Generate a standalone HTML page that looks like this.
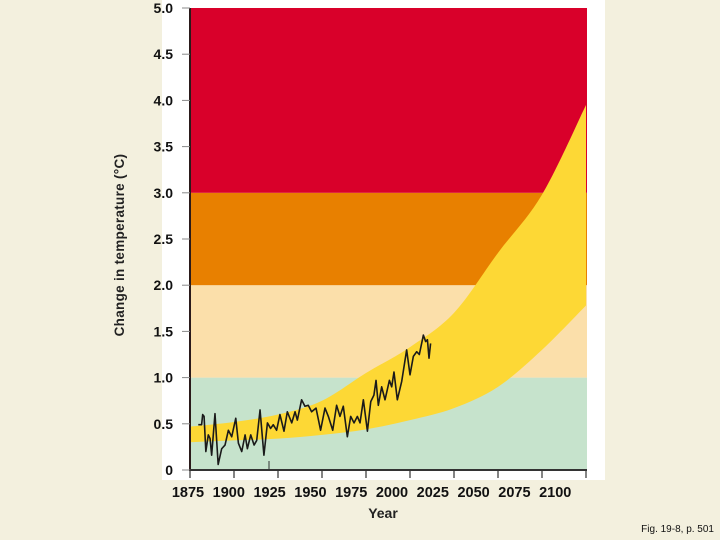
<!DOCTYPE html>
<html><head><meta charset="utf-8"><style>
body{margin:0;background:#f3f0de;font-family:"Liberation Sans",sans-serif}
svg{display:block}
</style></head><body>
<svg width="720" height="540" id="chart">
<rect x="0" y="0" width="720" height="540" fill="#f3f0de"/>
<rect x="162" y="0" width="443" height="480" fill="#ffffff"/>
<g id="bands"></g><g id="proj"></g><g id="line"></g><g id="axes"></g>
<text x="124" y="245" transform="rotate(-90 124 245)" text-anchor="middle" font-size="13.5" font-weight="bold" fill="#222" letter-spacing="0.3">Change in temperature (°C)</text>
<text x="383" y="518" text-anchor="middle" font-size="14" font-weight="bold" fill="#222">Year</text>
<text x="714" y="532" text-anchor="end" font-size="10" fill="#111">Fig. 19-8, p. 501</text>
</svg>
<script>
const bandLimits=[0,1,2,3,5];
const bandColors=["#c6e3cc","#fbdfaa","#e88000","#d9002a"];
const projYears=[1875,1900,1925,1950,1975,2000,2025,2050,2075,2100];
const projUpper=[0.47,0.52,0.6,0.75,1.05,1.33,1.7,2.35,2.98,3.95];
const projLower=[0.3,0.32,0.34,0.38,0.44,0.54,0.67,0.9,1.3,1.78];
const obsYears=[1879.7,1881.6,1882.2,1883,1884,1885.4,1886.4,1887.3,1889.2,1891,1893,1894.9,1896.8,1898.7,1901,1902.5,1904.4,1906.3,1907.6,1909.5,1911.4,1912.9,1914.8,1917,1919,1920.8,1922.3,1924.2,1926.1,1928.4,1930.3,1932.8,1934.7,1936,1938.4,1940.3,1942.2,1944.1,1946.6,1949.2,1951.7,1953.6,1956.1,1958.3,1960.2,1962.1,1964.4,1966.3,1968.2,1970.1,1971.6,1973.5,1975.8,1977.7,1979.5,1980.7,1982,1983.9,1985.8,1988.3,1989.6,1990.9,1992.8,1995.3,1998.1,2000,2001.9,2003.8,2005.3,2007.6,2008.9,2009.9,2010.8,2011.7];
const obsValues=[0.49,0.49,0.60,0.58,0.20,0.38,0.34,0.16,0.61,0.06,0.23,0.27,0.43,0.36,0.56,0.29,0.20,0.38,0.23,0.38,0.27,0.32,0.65,0.16,0.51,0.45,0.49,0.43,0.60,0.42,0.63,0.51,0.63,0.54,0.76,0.69,0.70,0.63,0.67,0.43,0.67,0.58,0.43,0.70,0.58,0.69,0.36,0.58,0.51,0.58,0.51,0.76,0.42,0.74,0.81,0.97,0.70,0.90,0.76,0.97,0.90,1.06,0.76,0.96,1.30,1.03,1.23,1.28,1.25,1.46,1.39,1.41,1.21,1.37];
const yTicks=[0,0.5,1,1.5,2,2.5,3,3.5,4,4.5,5];
const yTickLabels=["0","0.5","1.0","1.5","2.0","2.5","3.0","3.5","4.0","4.5","5.0"];
const xTicks=[1875,1900,1925,1950,1975,2000,2025,2050,2075,2100];
const xTickLabels=["1875","1900","1925","1950","1975","2000","2025","2050","2075","2100"];
const X0=190,X1=586,Y0=470,Y1=8,XMIN=1875,XMAX=2100;
const sx=y=>X0+(y-XMIN)/(XMAX-XMIN)*(X1-X0);
const sy=v=>Y0-v/5*(Y0-Y1);
const NS="http://www.w3.org/2000/svg";
function mk(t,p,a){const e=document.createElementNS(NS,t);for(const k in a)e.setAttribute(k,a[k]);p.appendChild(e);return e;}
const bands=document.getElementById('bands');
for(let i=0;i<bandColors.length;i++){
 const r=mk('rect',bands,{x:X0,y:sy(bandLimits[i+1]),width:X1-X0+1,height:sy(bandLimits[i])-sy(bandLimits[i+1]),fill:bandColors[i]});
 
 
}
const proj=document.getElementById('proj');
function smooth(xs,ys){
 // Catmull-Rom path through given points
 let d='M'+xs[0]+','+ys[0];
 for(let i=0;i<xs.length-1;i++){
  const x0=xs[Math.max(i-1,0)],y0=ys[Math.max(i-1,0)],x1=xs[i],y1=ys[i],x2=xs[i+1],y2=ys[i+1],x3=xs[Math.min(i+2,xs.length-1)],y3=ys[Math.min(i+2,xs.length-1)];
  d+=' C'+(x1+(x2-x0)/6)+','+(y1+(y2-y0)/6)+' '+(x2-(x3-x1)/6)+','+(y2-(y3-y1)/6)+' '+x2+','+y2;
 }
 return d;
}
const ux=projYears.map(sx),uy=projUpper.map(sy);
const lx=projYears.map(sx).reverse(),ly=projLower.map(sy).reverse();
const cp=mk('clipPath',proj,{id:'clipPlot'});mk('rect',cp,{x:X0,y:Y1,width:X1-X0+1,height:Y0-Y1});
const dPath=smooth(ux,uy)+' L'+lx[0]+','+ly[0]+smooth(lx,ly).replace(/^M[^ ]+/,'')+' Z';
const pb=mk('path',proj,{d:dPath,fill:'#fdd835','clip-path':'url(#clipPlot)'});


const line=document.getElementById('line');
const pl=mk('polyline',line,{points:obsYears.map((y,i)=>sx(y)+','+sy(obsValues[i])).join(' '),fill:'none',stroke:'#1a1a1a','stroke-width':1.6,'stroke-linejoin':'round'});


const ax=document.getElementById('axes');
mk('line',ax,{x1:X0,y1:Y1,x2:X0,y2:Y0+1,stroke:'#2a1a1a','stroke-width':2});
mk('line',ax,{x1:X0,y1:Y0,x2:X1+1,y2:Y0,stroke:'#333','stroke-width':2});
mk('line',ax,{x1:269,y1:461,x2:269,y2:Y0,stroke:'#333','stroke-width':1});
yTicks.forEach((v,i)=>{
 mk('line',ax,{x1:X0-8,y1:sy(v),x2:X0,y2:sy(v),stroke:'#888','stroke-width':1});
 const t=mk('text',ax,{x:173,y:sy(v)+5,'text-anchor':'end','font-size':14,'font-weight':'bold',fill:'#111'});
 t.textContent=yTickLabels[i];
 
 
});
xTicks.forEach((y,i)=>{
 mk('line',ax,{x1:sx(y),y1:Y0,x2:sx(y),y2:Y0+8,stroke:'#333','stroke-width':1.2});
 const t=mk('text',ax,{x:188+i*40.8,y:497,'text-anchor':'middle','font-size':14.5,'font-weight':'bold',fill:'#111'});
 t.textContent=xTickLabels[i];
 
 
});
</script>
</body></html>
